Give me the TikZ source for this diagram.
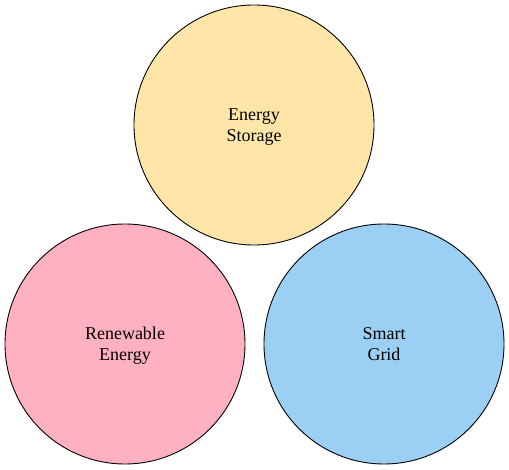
\documentclass[tikz,border=0pt]{standalone}
\usepackage{fontspec}
\setmainfont{Liberation Serif}
\definecolor{storagefill}{HTML}{FFE6A8}
\definecolor{renewablefill}{HTML}{FFB0C1}
\definecolor{gridfill}{HTML}{9BCFF4}

\begin{document}
\begin{tikzpicture}[x=1pt,y=-1pt,
        bubble/.style={circle,draw=black,line width=0.9pt,
          minimum size=240pt,inner sep=0pt,align=center,text depth=-8pt,
          font=\fontsize{18}{20.5}\selectfont}]
        \useasboundingbox (0,0) rectangle (509,470);
        % One circle per topic, none of them touching.
        \node[bubble,fill=storagefill] (storage) at (254,125) {Energy\\Storage};
        \node[bubble,fill=renewablefill] (renewable) at (125,344) {Renewable\\Energy};
        \node[bubble,fill=gridfill] (grid) at (384,344) {Smart\\Grid};
      \end{tikzpicture}
\end{document}
